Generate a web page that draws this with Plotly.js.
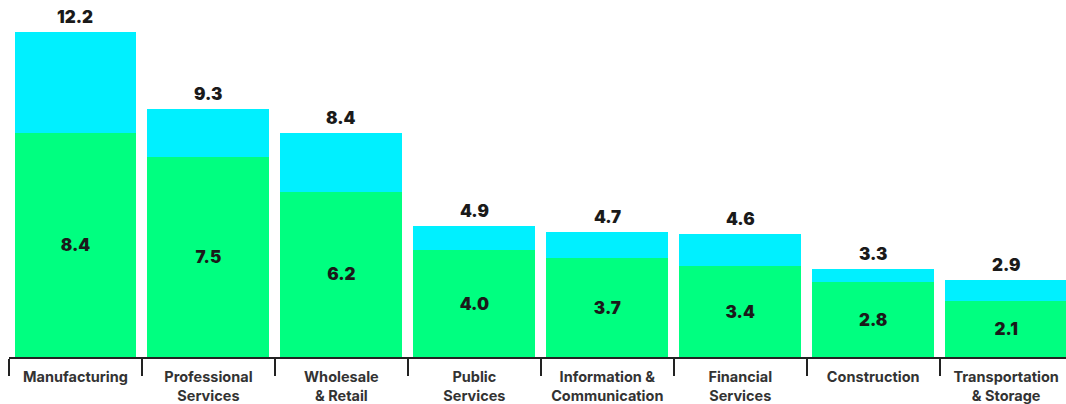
<!DOCTYPE html>
<html>
<head>
<meta charset="utf-8">
<script src="https://cdn.plot.ly/plotly-3.0.1.min.js"></script>
<style>html,body{margin:0;padding:0;background:#fff;}#chart{width:1066px;height:404px;}</style>
</head>
<body>
<div id="chart"></div>
<script>
const categories = ["Manufacturing", "Professional<br>Services", "Wholesale<br>& Retail", "Public<br>Services", "Information &<br>Communication", "Financial<br>Services", "Construction", "Transportation<br>& Storage"];
const greenValues = [8.4, 7.5, 6.2, 4.0, 3.7, 3.4, 2.8, 2.1];
const totalValues = [12.2, 9.3, 8.4, 4.9, 4.7, 4.6, 3.3, 2.9];
const cyanValues = totalValues.map((t, i) => +(t - greenValues[i]).toFixed(1));

const numFont = {family: "Inter, 'DejaVu Sans', sans-serif", size: 17, color: "#1a1a1a", weight: 900};

const traces = [
  {
    type: "bar", x: categories, y: greenValues,
    marker: {color: "#00FF80"},
    text: greenValues.map(v => v.toFixed(1)),
    textposition: "inside", insidetextanchor: "middle",
    textfont: numFont, hoverinfo: "none"
  },
  {
    type: "bar", x: categories, y: cyanValues,
    marker: {color: "#00F0FF"},
    hoverinfo: "none"
  }
];

const annotations = categories.map((c, i) => ({
  x: c, y: totalValues[i], xref: "x", yref: "y",
  text: totalValues[i].toFixed(1), showarrow: false,
  yanchor: "bottom", yshift: 3, font: numFont
}));

const layout = {
  width: 1066, height: 404,
  margin: {l: 9, r: 0, t: 0, b: 47},
  barmode: "stack", bargap: 0.083,
  showlegend: false,
  paper_bgcolor: "#fff", plot_bgcolor: "#fff",
  xaxis: {
    type: "category", range: [-0.5, 7.45],
    tickson: "boundaries", ticks: "outside", ticklen: 17, tickwidth: 2, tickcolor: "#222",
    showline: true, linecolor: "#222", linewidth: 2,
    showgrid: false, zeroline: false,
    ticklabelstandoff: 6,
    tickfont: {family: "Inter, 'DejaVu Sans', sans-serif", size: 14.5, color: "#333", weight: 700}
  },
  yaxis: {
    range: [0, 13.4], showgrid: false, zeroline: false, showline: false,
    showticklabels: false, ticks: ""
  },
  annotations: annotations
};

Plotly.newPlot("chart", traces, layout, {displayModeBar: false, staticPlot: true});
</script>
</body>
</html>
